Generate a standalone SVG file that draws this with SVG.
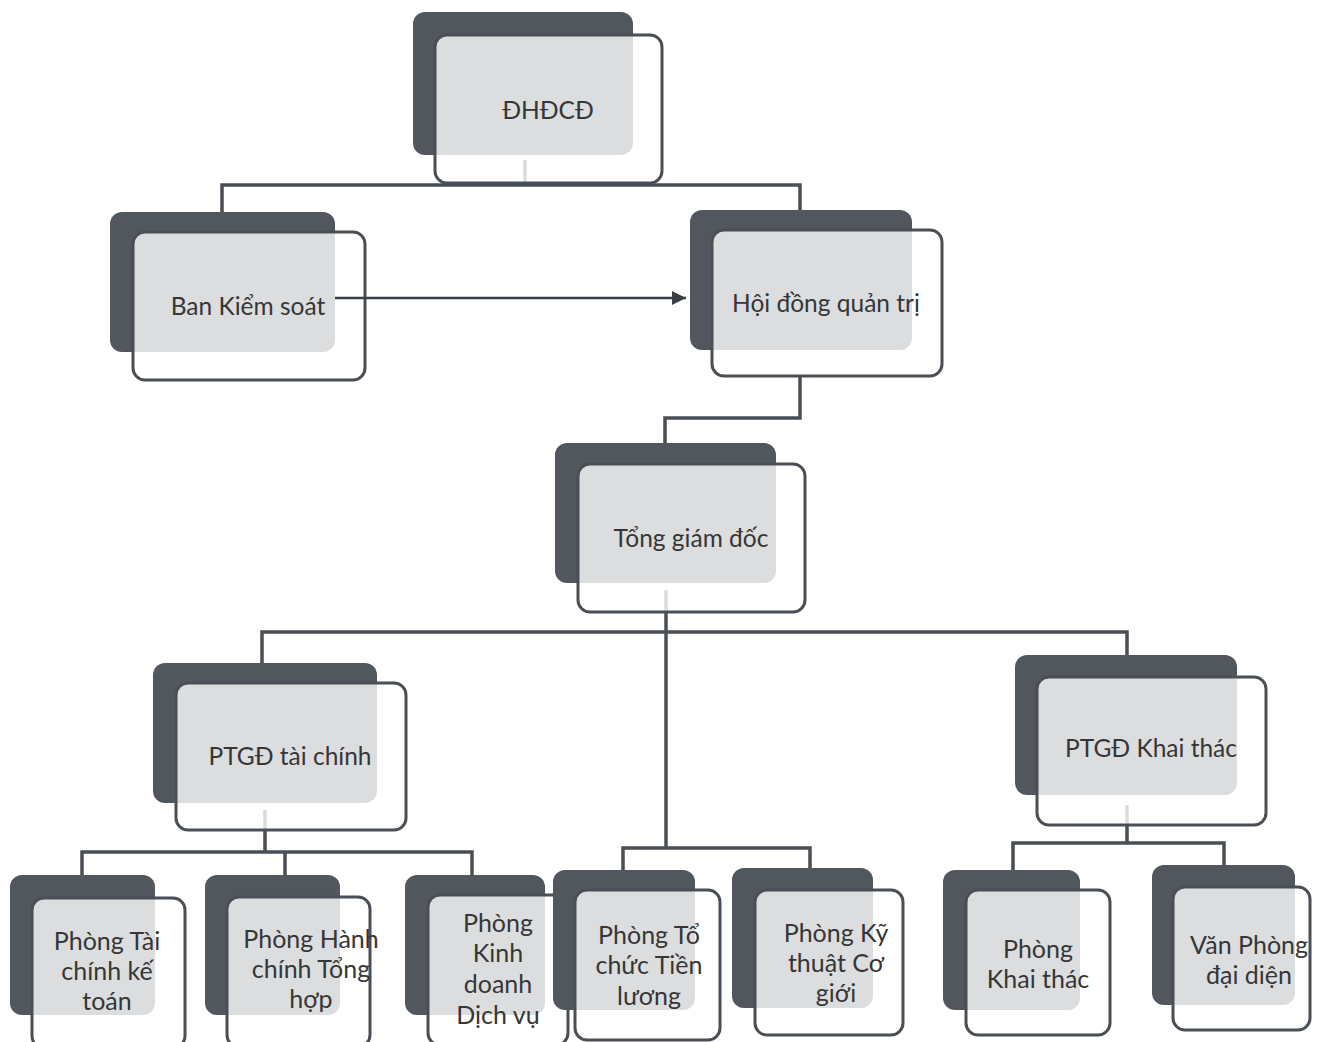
<svg xmlns="http://www.w3.org/2000/svg" width="1320" height="1042" viewBox="0 0 1320 1042">
<defs>
<marker id="arr" viewBox="0 0 10 10" refX="10" refY="5" markerWidth="14" markerHeight="14" markerUnits="userSpaceOnUse" orient="auto">
<path d="M0,0 L10,5 L0,10 z" fill="#3a3f45"/>
</marker>
</defs>
<style>
.back{fill:#52575e;}
.front{fill:#ffffff;fill-opacity:0.8;stroke:#4a4f56;stroke-width:3;}
.lbl{font-family:Lato,"Open Sans","Liberation Sans",sans-serif;font-size:24.5px;fill:#363636;text-anchor:middle;}
.sm{font-size:25px;}
.con{fill:none;stroke:#4a4f56;stroke-width:3.5;}
.arrow{fill:none;stroke:#3a3f45;stroke-width:2.5;}
</style>
<rect width="1320" height="1042" fill="#ffffff"/>
<g id="connectors">
<path class="con" d="M525,160 V185 M222,212 V185 H800 V210"/>
<path class="con" d="M800,376 V418 H665 V443"/>
<path class="con" d="M666,590 V848 M262,663 V632 H1127 V655 M623,870 V848 H810 V868"/>
<path class="con" d="M265,810 V852 M82,875 V852 H472 V875 M285,852 V875"/>
<path class="con" d="M1127,805 V843 M1013,870 V843 H1224 V865"/>
</g>
<g id="n-dhdcd"><rect class="back" x="413" y="12" width="220" height="143" rx="12"/><rect class="front" x="435" y="35" width="227" height="148" rx="12"/><text class="lbl" x="548" y="119">ĐHĐCĐ</text></g>
<g id="n-bks"><rect class="back" x="110" y="212" width="225" height="140" rx="12"/><rect class="front" x="133" y="232" width="232" height="148" rx="12"/><text class="lbl" x="248" y="315">Ban Kiểm soát</text></g>
<g id="n-hdqt"><rect class="back" x="690" y="210" width="222" height="140" rx="12"/><rect class="front" x="712" y="230" width="230" height="146" rx="12"/><text class="lbl" x="826" y="312">Hội đồng quản trị</text></g>
<g id="n-tgd"><rect class="back" x="555" y="443" width="221" height="140" rx="12"/><rect class="front" x="578" y="464" width="227" height="148" rx="12"/><text class="lbl" x="691" y="547">Tổng giám đốc</text></g>
<g id="n-ptgd-tc"><rect class="back" x="153" y="663" width="224" height="140" rx="12"/><rect class="front" x="176" y="683" width="230" height="147" rx="12"/><text class="lbl" x="290" y="765">PTGĐ tài chính</text></g>
<g id="n-ptgd-kt"><rect class="back" x="1015" y="655" width="222" height="140" rx="12"/><rect class="front" x="1037" y="677" width="229" height="148" rx="12"/><text class="lbl" x="1151" y="757">PTGĐ Khai thác</text></g>
<g id="n-tckt"><rect class="back" x="10" y="875" width="145" height="140" rx="12"/><rect class="front" x="32" y="898" width="153" height="150" rx="12"/><text class="lbl sm" x="107"><tspan x="107" y="950">Phòng Tài</tspan><tspan x="107" y="980">chính kế</tspan><tspan x="107" y="1010">toán</tspan></text></g>
<g id="n-hcth"><rect class="back" x="205" y="875" width="135" height="140" rx="12"/><rect class="front" x="227" y="897" width="143" height="150" rx="12"/><text class="lbl sm" x="311"><tspan x="311" y="948">Phòng Hành</tspan><tspan x="311" y="978">chính Tổng</tspan><tspan x="311" y="1008">hợp</tspan></text></g>
<g id="n-kddv"><rect class="back" x="405" y="875" width="140" height="140" rx="12"/><rect class="front" x="428" y="895" width="140" height="150" rx="12"/><text class="lbl sm" x="498"><tspan x="498" y="932">Phòng</tspan><tspan x="498" y="962">Kinh</tspan><tspan x="498" y="993">doanh</tspan><tspan x="498" y="1024">Dịch vụ</tspan></text></g>
<g id="n-tctl"><rect class="back" x="553" y="870" width="142" height="140" rx="12"/><rect class="front" x="575" y="890" width="145" height="150" rx="12"/><text class="lbl sm" x="649"><tspan x="649" y="944">Phòng Tổ</tspan><tspan x="649" y="974">chức Tiền</tspan><tspan x="649" y="1005">lương</tspan></text></g>
<g id="n-ktcg"><rect class="back" x="732" y="868" width="141" height="140" rx="12"/><rect class="front" x="755" y="890" width="148" height="145" rx="12"/><text class="lbl sm" x="836"><tspan x="836" y="942">Phòng Kỹ</tspan><tspan x="836" y="972">thuật Cơ</tspan><tspan x="836" y="1002">giới</tspan></text></g>
<g id="n-kt"><rect class="back" x="943" y="870" width="137" height="140" rx="12"/><rect class="front" x="966" y="890" width="144" height="145" rx="12"/><text class="lbl sm" x="1038"><tspan x="1038" y="958">Phòng</tspan><tspan x="1038" y="988">Khai thác</tspan></text></g>
<g id="n-vpdd"><rect class="back" x="1152" y="865" width="143" height="140" rx="12"/><rect class="front" x="1173" y="887" width="137" height="143" rx="12"/><text class="lbl sm" x="1249"><tspan x="1249" y="954">Văn Phòng</tspan><tspan x="1249" y="984">đại diện</tspan></text></g>
<g id="connectors-arrow">
<path class="arrow" d="M335,298 H686" marker-end="url(#arr)"/>
</g>
</svg>
